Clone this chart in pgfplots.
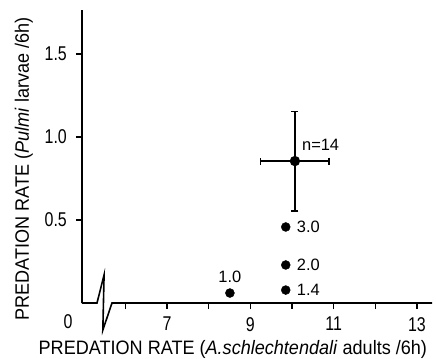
\documentclass[border=0pt]{standalone}
\usepackage{fontspec}
\setmainfont{Liberation Sans}
\newfontfamily\tickfont{Liberation Sans}[FakeStretch=0.8]
\newfontfamily\labfont{Liberation Sans}[FakeStretch=0.93]
\usepackage{pgfplots}
\pgfplotsset{compat=1.18}
\usetikzlibrary{calc}
\begin{document}
\begin{tikzpicture}
\begin{axis}[
  name=ax,
  scale only axis,
  width=350bp, height=293bp,
  xmin=4.96, xmax=13.36, ymin=0, ymax=1.765,
  axis lines*=left,
  x axis line style={draw=none},
  y axis line style={line width=1.6bp},
  clip=false,
  xtick={6,7,8,9,10,11,12,13},
  xticklabels={,7,,9,,11,,13},
  ytick={0.5,1.0,1.5},
  yticklabels={0.5,1.0,1.5},
  tick align=outside,
  major tick length=6bp,
  tick style={line width=1.3bp, black},
  ticklabel style={font=\tickfont\fontsize{20}{22}\selectfont},
  xticklabel style={inner sep=0pt, yshift=-8bp},
  yticklabel style={inner sep=0pt, xshift=-9bp},
  xlabel={PREDATION RATE (\textit{A.schlechtendali} adults /6h)},
  ylabel={PREDATION RATE (\textit{Pulmi} larvae /6h)},
  label style={font=\labfont\fontsize{19.5}{21}\selectfont},
  xlabel style={at={(axis description cs:0.431,-0.157)}, anchor=center},
  ylabel style={at={(axis description cs:-0.166,0.458)}, anchor=center},
]
\addplot[only marks, mark=*, mark size=4.5bp, black]
  coordinates {(8.51,0.06) (9.85,0.078) (9.85,0.229) (9.85,0.458)};
\addplot[only marks, mark=*, mark size=4.5bp, black, line width=1.3bp,
  error bars/.cd, x dir=both, y dir=both, x explicit, y explicit,
  error mark options={rotate=90, mark size=3.5bp, line width=1.3bp, black},
  error bar style={line width=1.3bp}]
  coordinates {(10.07,0.855) +- (0.82,0.3)};
\draw[line width=1.6bp, black] (axis cs:4.96,0) -- (axis cs:5.32,0) -- (axis cs:5.49,0.169) -- (axis cs:5.46,-0.163) -- (axis cs:5.68,0) -- (axis cs:13.36,0);
\node[font=\fontsize{16.5}{18}\selectfont, anchor=south, inner sep=0pt, yshift=10bp] at (axis cs:8.51,0.06) {1.0};
\node[font=\fontsize{16.5}{18}\selectfont, anchor=west, inner sep=0pt, xshift=11bp] at (axis cs:9.85,0.078) {1.4};
\node[font=\fontsize{16.5}{18}\selectfont, anchor=west, inner sep=0pt, xshift=11bp] at (axis cs:9.85,0.229) {2.0};
\node[font=\fontsize{16.5}{18}\selectfont, anchor=west, inner sep=0pt, xshift=11bp] at (axis cs:9.85,0.458) {3.0};
\node[font=\fontsize{16.5}{18}\selectfont, anchor=west, inner sep=0pt, xshift=7bp, yshift=16bp] at (axis cs:10.07,0.855) {n=14};
\node[font=\tickfont\fontsize{20}{22}\selectfont, anchor=center, inner sep=0pt, xshift=-14bp, yshift=-19bp] at (axis cs:4.96,0) {0};
\end{axis}
\pgfresetboundingbox
\path[use as bounding box] ($(ax.south west)+(-82bp,-56bp)$) rectangle ($(ax.north east)+(4bp,10bp)$);
\end{tikzpicture}
\end{document}
